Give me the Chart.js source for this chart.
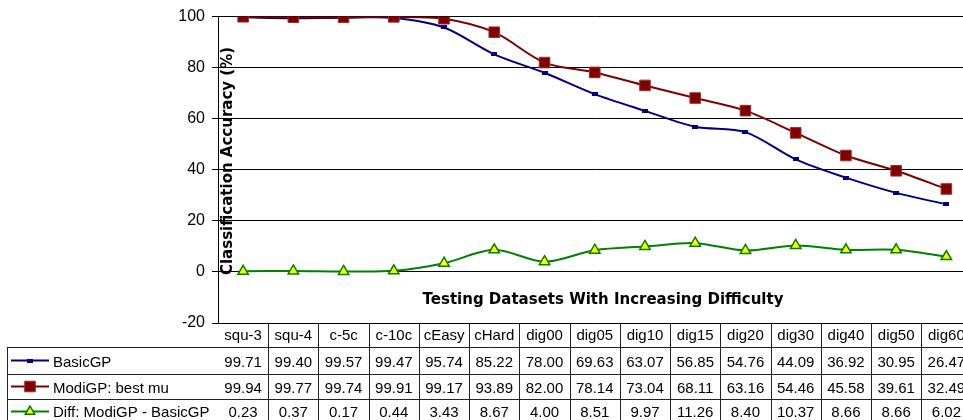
<!DOCTYPE html>
<html>
<head>
<meta charset="utf-8">
<title>Classification Accuracy</title>
<script src="https://cdn.jsdelivr.net/npm/chart.js@4.4.1/dist/chart.umd.min.js"></script>
<style>
    html, body { margin: 0; padding: 0; background: #fff; overflow: hidden; }
    #wrap { width: 980px; height: 420px; }
</style>
</head>
<body>
<div id="wrap"><canvas id="accuracy-chart" width="980" height="420"></canvas></div>
<script>
// Datasets ordered by difficulty
const datasetNames = ['squ-3', 'squ-4', 'c-5c', 'c-10c', 'cEasy', 'cHard', 'dig00', 'dig05',
    'dig10', 'dig15', 'dig20', 'dig30', 'dig40', 'dig50', 'dig60'];
const basicGP = [99.71, 99.40, 99.57, 99.47, 95.74, 85.22, 78.00, 69.63, 63.07, 56.85, 54.76, 44.09, 36.92, 30.95, 26.47];
const modiGP = [99.94, 99.77, 99.74, 99.91, 99.17, 93.89, 82.00, 78.14, 73.04, 68.11, 63.16, 54.46, 45.58, 39.61, 32.49];
const diffGP = [0.23, 0.37, 0.17, 0.44, 3.43, 8.67, 4.00, 8.51, 9.97, 11.26, 8.40, 10.37, 8.66, 8.66, 6.02];
const yTickValues = [-20, 0, 20, 40, 60, 80, 100];

const seriesLabels = ['BasicGP', 'ModiGP: best mu', 'Diff: ModiGP - BasicGP'];
const yTitle = 'Classification Accuracy (%)';
const xTitle = 'Testing Datasets With Increasing Difficulty';

const NAVY = '#000080';
const MAROON = '#800000';
const GREEN = '#008000';
const YELLOW = '#ffff00';

// small flat dash marker used by BasicGP
const dashMarker = document.createElement('canvas');
dashMarker.width = 6;
dashMarker.height = 4;
const dm = dashMarker.getContext('2d');
dm.fillStyle = NAVY;
dm.fillRect(0, 0, 6, 4);

const TABLE_FONT = '15px "Liberation Sans", Arial, sans-serif';
const TITLE_FONT = 'bold 15px "DejaVu Sans", Verdana, sans-serif';

// axis titles sit inside the plot area
const axisTitles = {
    id: 'axisTitles',
    afterDatasetsDraw(chart) {
        const {ctx, chartArea} = chart;
        ctx.save();
        ctx.fillStyle = '#000';
        ctx.font = TITLE_FONT;
        ctx.textAlign = 'center';
        ctx.textBaseline = 'middle';
        ctx.fillText(xTitle, 603, 300);
        ctx.translate(chartArea.left + 10, 161);
        ctx.rotate(-Math.PI / 2);
        ctx.fillText(yTitle, 0, 0);
        ctx.restore();
    }
};

// data table under the plot, columns follow the category scale
const dataTable = {
    id: 'dataTable',
    afterDraw(chart) {
        const {ctx, chartArea, scales: {x}} = chart;
        const rows = [chartArea.bottom, 347, 374, 399, 424];
        const baselines = [340, 367, 393, 417];
        const tableLeft = 7.5;
        const colW = x.width / datasetNames.length;
        const values = [basicGP, modiGP, diffGP];

        ctx.save();
        ctx.strokeStyle = '#222';
        ctx.lineWidth = 1;
        ctx.beginPath();
        for (let r = 1; r < rows.length - 1; r++) {
            ctx.moveTo(tableLeft, Math.round(rows[r]) + 0.5);
            ctx.lineTo(chartArea.right, Math.round(rows[r]) + 0.5);
        }
        ctx.moveTo(tableLeft, rows[1]);
        ctx.lineTo(tableLeft, 420);
        for (let i = 1; i <= datasetNames.length; i++) {
            const cx = Math.round(chartArea.left + i * colW) + 0.5;
            ctx.moveTo(cx, chartArea.bottom);
            ctx.lineTo(cx, 420);
        }
        ctx.stroke();

        ctx.fillStyle = '#000';
        ctx.font = TABLE_FONT;
        ctx.textAlign = 'center';
        ctx.textBaseline = 'alphabetic';
        datasetNames.forEach((name, i) => {
            const cx = x.getPixelForValue(i);
            ctx.fillText(name, cx, baselines[0]);
            values.forEach((series, s) => {
                ctx.fillText(series[i].toFixed(2), cx, baselines[s + 1]);
            });
        });

        // legend keys
        ctx.textAlign = 'left';
        chart.data.datasets.forEach((ds, s) => {
            const cy = (rows[s + 1] + rows[s + 2]) / 2;
            ctx.strokeStyle = ds.borderColor;
            ctx.lineWidth = 2;
            ctx.beginPath();
            ctx.moveTo(11, cy);
            ctx.lineTo(49, cy);
            ctx.stroke();
            ctx.fillStyle = ds.pointBackgroundColor;
            ctx.strokeStyle = ds.pointBorderColor;
            ctx.lineWidth = ds.pointBorderWidth;
            Chart.helpers.drawPoint(ctx, {
                pointStyle: ds.pointStyle,
                radius: ds.legendRadius,
                rotation: 0,
                borderWidth: ds.pointBorderWidth
            }, 30, cy);
            ctx.fillStyle = '#000';
            ctx.fillText(ds.label, 53, baselines[s + 1]);
        });
        ctx.restore();
    }
};

const ctx = document.getElementById('accuracy-chart').getContext('2d');
window.accuracyChart = new Chart(ctx, {
    type: 'line',
    data: {
        labels: datasetNames,
        datasets: [{
            label: seriesLabels[0],
            data: basicGP,
            borderColor: NAVY,
            borderWidth: 2,
            pointStyle: dashMarker,
            pointBackgroundColor: NAVY,
            pointBorderColor: NAVY,
            pointBorderWidth: 0,
            legendRadius: 3,
            order: 2
        }, {
            label: seriesLabels[1],
            data: modiGP,
            borderColor: MAROON,
            borderWidth: 2,
            pointStyle: 'rect',
            pointRadius: 7.5,
            pointBackgroundColor: MAROON,
            pointBorderColor: '#9a3030',
            pointBorderWidth: 1,
            legendRadius: 7.5,
            order: 1
        }, {
            label: seriesLabels[2],
            data: diffGP,
            borderColor: GREEN,
            borderWidth: 2,
            pointStyle: 'triangle',
            pointRadius: 6,
            pointBackgroundColor: YELLOW,
            pointBorderColor: GREEN,
            pointBorderWidth: 1.5,
            legendRadius: 5.5,
            order: 3
        }]
    },
    options: {
        responsive: false,
        animation: false,
        events: [],
        elements: {
            line: { tension: 0.3 },
            point: { hoverRadius: 0 }
        },
        layout: {
            padding: { left: 0, top: 16, right: 0, bottom: 97 }
        },
        plugins: {
            legend: { display: false },
            tooltip: { enabled: false }
        },
        scales: {
            x: {
                display: false,
                offset: true
            },
            y: {
                min: -20,
                max: 100,
                afterBuildTicks: (scale) => {
                    scale.ticks = yTickValues.map(v => ({ value: v }));
                },
                afterFit: (scale) => {
                    scale.width = 218;
                },
                ticks: {
                    color: '#000',
                    padding: 7,
                    font: { family: '"Liberation Sans", Arial, sans-serif', size: 16 }
                },
                grid: {
                    color: '#000',
                    lineWidth: 1,
                    tickLength: 6,
                    tickColor: '#000'
                },
                border: { display: true, color: '#000', width: 1 }
            }
        }
    },
    plugins: [axisTitles, dataTable]
});
</script>
</body>
</html>
